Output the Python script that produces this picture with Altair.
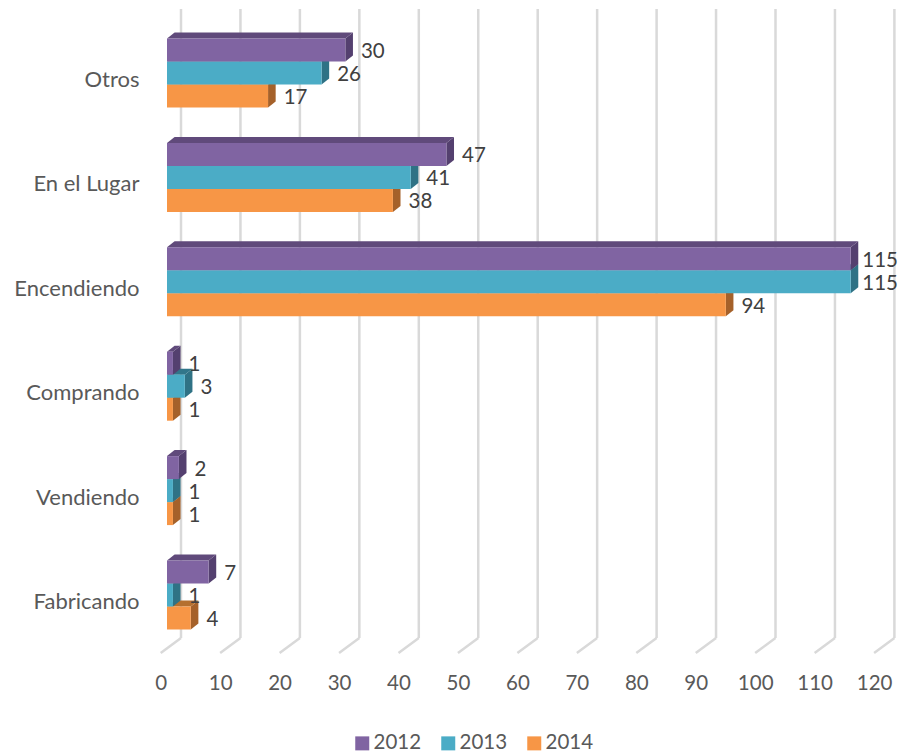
import json
import altair as alt
import pandas as pd

categories = ["Fabricando", "Vendiendo", "Comprando", "Encendiendo", "En el Lugar", "Otros"]
years = ["2012", "2013", "2014"]
values_2012 = [7, 2, 1, 115, 47, 30]
values_2013 = [1, 1, 3, 115, 41, 26]
values_2014 = [4, 1, 1, 94, 38, 17]
ticks = list(range(0, 130, 10))

front_colors = ["#8064A2", "#4BACC6", "#F79646"]
top_colors = ["#604A7B", "#31768A", "#B5702F"]
side_colors = ["#54406F", "#2F7285", "#A5612A"]

FONT = "Lato"
FS = 20.5
UX = 5.945   # px per value unit
UY = 104.4   # px per category row
X0 = 160.7   # page px of value 0 on the floor's front edge
Y0 = 601.5   # page px of row 0
LEFT, TOP, W, H = 147, 8, 751, 652

def vx(px):
    return px / UX

x_scale = alt.Scale(domain=[(LEFT - X0) / UX, (LEFT + W - X0) / UX], range=[0, W], nice=False, zero=False)
y_scale = alt.Scale(domain=[(Y0 - (TOP + H)) / UY, (Y0 - TOP) / UY], range=[H, 0], nice=False, zero=False)
color_scale = alt.Scale(domain=years, range=front_colors)

BAR_SHIFT = vx(6.3)
DX = vx(7.6)
DY = 6 / UY
BAR_H = 23 / UY
GROUP_TOP = 41 / UY

axis_x = alt.Axis(values=ticks, domain=False, ticks=False, grid=False, title=None, labelFont=FONT,
                  labelFontSize=FS, labelColor="#595959", labelPadding=13, labelAngle=0)
axis_y = alt.Axis(values=list(range(len(categories))), domain=False, ticks=False, grid=False, title=None,
                  labelFont=FONT, labelFontSize=22, labelColor="#595959", labelPadding=8,
                  labelLimit=200, labelExpr=json.dumps(categories) + "[datum.value]")

def X(f, **kw):
    return alt.X(f, type="quantitative", scale=x_scale, axis=axis_x, **kw)

def Y(f, **kw):
    return alt.Y(f, type="quantitative", scale=y_scale, axis=axis_y, **kw)

# gridlines: back wall and floor
BACK = vx(20.3)
wall = pd.DataFrame({"x": [t + BACK for t in ticks],
                     "y": [(Y0 - 638) / UY] * len(ticks),
                     "y2": [(Y0 - 9) / UY] * len(ticks)})
floor = pd.DataFrame({"x": ticks,
                      "x2": [t + BACK for t in ticks],
                      "y": [(Y0 - 653) / UY] * len(ticks),
                      "y2": [(Y0 - 638) / UY] * len(ticks)})

layers = [
    alt.Chart(wall).mark_rule(color="#D9D9D9", strokeWidth=2.5).encode(
        x=X("x"), y=Y("y"), y2="y2:Q"),
    alt.Chart(floor).mark_rule(color="#D9D9D9", strokeWidth=2.5).encode(
        x=X("x"), x2="x2:Q", y=Y("y"), y2="y2:Q"),
]

series = [values_2012, values_2013, values_2014]
label_rows = []
for s in [2, 1, 0]:
    side, top, front = [], [], []
    for r, v in enumerate(series[s]):
        t = r + GROUP_TOP - s * BAR_H
        b = t - BAR_H
        x0 = BAR_SHIFT
        x1 = v + BAR_SHIFT
        key = f"{s}-{r}"
        front.append(dict(key=key, year=years[s], x=x0, x2=x1, y=t, y2=b))
        side += [dict(key=key, x=x1, y=t, y2=b), dict(key=key, x=x1 + DX, y=t + DY, y2=b + DY)]
        top += [dict(key=key, y=t, x=x0, x2=x1), dict(key=key, y=t + DY, x=x0 + DX, x2=x1 + DX)]
        gap = vx(4 if v >= 100 else 8)
        label_rows.append(dict(x=x1 + DX + gap, y=(t + b) / 2, label=str(v)))
    layers.append(alt.Chart(pd.DataFrame(side)).mark_area(orient="vertical", color=side_colors[s]).encode(
        x=X("x"), y=Y("y"), y2="y2:Q", detail="key:N"))
    layers.append(alt.Chart(pd.DataFrame(top)).mark_area(orient="horizontal", color=top_colors[s]).encode(
        y=Y("y"), x=X("x"), x2="x2:Q", detail="key:N"))
    layers.append(alt.Chart(pd.DataFrame(front)).mark_rect().encode(
        x=X("x"), x2="x2:Q", y=Y("y"), y2="y2:Q",
        color=alt.Color("year:N", scale=color_scale, sort=years,
                        legend=alt.Legend(title=None, orient="none", direction="horizontal",
                                          legendX=205, legendY=725, symbolType="square", symbolSize=196,
                                          symbolStrokeWidth=0, labelFont=FONT, labelFontSize=FS,
                                          labelColor="#595959", columnPadding=16, labelOffset=1, columns=3))))

layers.append(alt.Chart(pd.DataFrame(label_rows)).mark_text(
    font=FONT, fontSize=FS, color="#404040", align="left", baseline="middle", dy=2).encode(
    x=X("x"), y=Y("y"), text="label:N"))

chart = alt.layer(*layers).properties(
    width=W, height=H,
    autosize=alt.AutoSizeParams(type="none"),
    padding={"left": LEFT - 8, "top": 0, "right": 0, "bottom": 93},
).configure_view(stroke=None)

chart.save("out.html", embed_options={"renderer": "svg", "actions": False})
